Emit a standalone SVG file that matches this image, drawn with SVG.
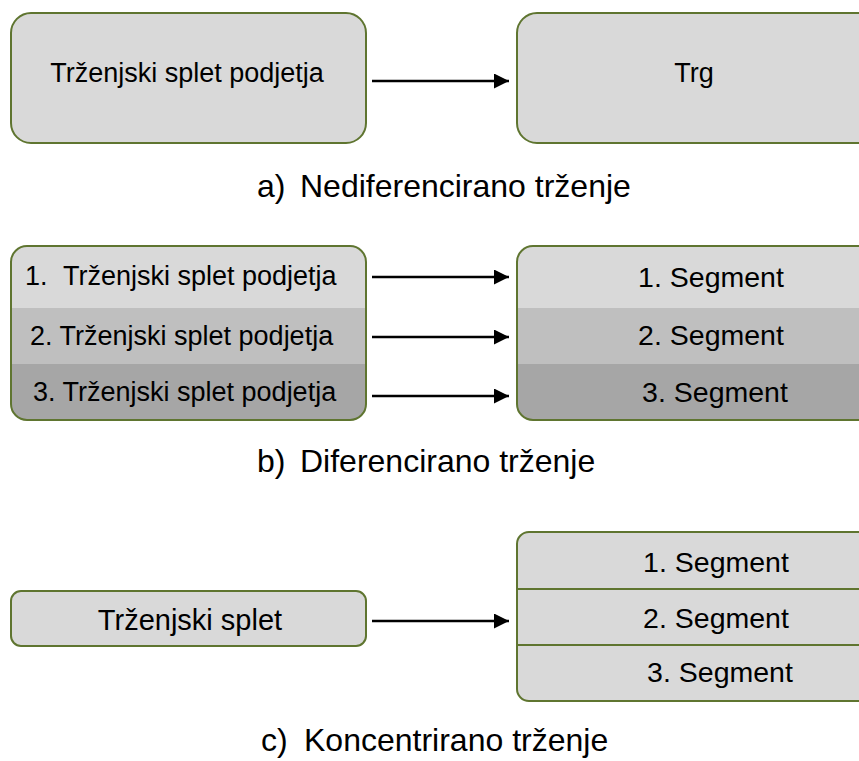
<svg xmlns="http://www.w3.org/2000/svg" width="859" height="761" viewBox="0 0 859 761">
<style>
.box{fill:#d9d9d9;stroke:#5f7530;stroke-width:2}
.frame{fill:none;stroke:#5f7530;stroke-width:2}
.sep{stroke:#5f7530;stroke-width:2}
.t{font-family:"Liberation Sans",Arial,sans-serif;font-size:27px;fill:#000}
.big{font-size:29px}
.lbl{font-family:"Liberation Sans",Arial,sans-serif;font-size:32px;fill:#000}
.seg{font-family:"Liberation Sans",Arial,sans-serif;font-size:28.5px;fill:#000}
.c{text-anchor:middle}
.conn{stroke:#000;stroke-width:2.5;fill:none;marker-end:url(#ah)}
</style>
<defs>
<marker id="ah" markerWidth="6" markerHeight="6" refX="6" refY="3" orient="auto" markerUnits="strokeWidth">
<path d="M0,0 L6,3 L0,6 Z" fill="#000"/>
</marker>
<clipPath id="clipBL"><rect x="11" y="246" width="355" height="174" rx="16"/></clipPath>
<clipPath id="clipBR"><rect x="517" y="246" width="380" height="174" rx="16"/></clipPath>
</defs>
<rect width="859" height="761" fill="#fff"/>

<g id="a-left">
<rect class="box" x="11" y="13" width="355" height="130" rx="20"/>
<text class="t c" x="187" y="82">Trženjski splet podjetja</text>
</g>
<g id="a-right">
<rect class="box" x="517" y="13" width="380" height="130" rx="20"/>
<text class="t c" x="694" y="82">Trg</text>
</g>
<text id="label-a" class="lbl" x="257" y="197">a)<tspan x="300">Nediferencirano trženje</tspan></text>

<g id="b-left">
<g clip-path="url(#clipBL)">
<rect x="11" y="246" width="355" height="62" fill="#d9d9d9"/>
<rect x="11" y="308" width="355" height="56" fill="#bfbfbf"/>
<rect x="11" y="364" width="355" height="56" fill="#a6a6a6"/>
</g>
<rect class="frame" x="11" y="246" width="355" height="174" rx="16"/>
<text class="t" x="25" y="285">1.<tspan x="63">Trženjski splet podjetja</tspan></text>
<text class="t" x="30" y="345">2. Trženjski splet podjetja</text>
<text class="t" x="33" y="401">3. Trženjski splet podjetja</text>
</g>
<g id="b-right">
<g clip-path="url(#clipBR)">
<rect x="517" y="246" width="380" height="62" fill="#d9d9d9"/>
<rect x="517" y="308" width="380" height="56" fill="#bfbfbf"/>
<rect x="517" y="364" width="380" height="56" fill="#a6a6a6"/>
</g>
<rect class="frame" x="517" y="246" width="380" height="174" rx="16"/>
<text class="seg c" x="711" y="287">1. Segment</text>
<text class="seg c" x="711" y="345">2. Segment</text>
<text class="seg c" x="715" y="402">3. Segment</text>
</g>
<text id="label-b" class="lbl" x="257" y="472">b)<tspan x="300">Diferencirano trženje</tspan></text>

<g id="c-left">
<rect class="box" x="11" y="591" width="355" height="55" rx="10"/>
<text class="t big c" x="190" y="630">Trženjski splet</text>
</g>
<g id="c-right">
<rect class="box" x="517" y="532" width="380" height="169" rx="12"/>
<line class="sep" x1="517" y1="589" x2="897" y2="589"/>
<line class="sep" x1="517" y1="645" x2="897" y2="645"/>
<text class="seg c" x="716" y="572">1. Segment</text>
<text class="seg c" x="716" y="628">2. Segment</text>
<text class="seg c" x="720" y="682">3. Segment</text>
</g>
<text id="label-c" class="lbl" x="261" y="751">c)<tspan x="304">Koncentrirano trženje</tspan></text>

<g id="connectors">
<line class="conn" x1="372" y1="81" x2="509" y2="81"/>
<line class="conn" x1="372" y1="277" x2="509" y2="277"/>
<line class="conn" x1="372" y1="337" x2="509" y2="337"/>
<line class="conn" x1="372" y1="396" x2="509" y2="396"/>
<line class="conn" x1="372" y1="621" x2="509" y2="621"/>
</g>
</svg>
